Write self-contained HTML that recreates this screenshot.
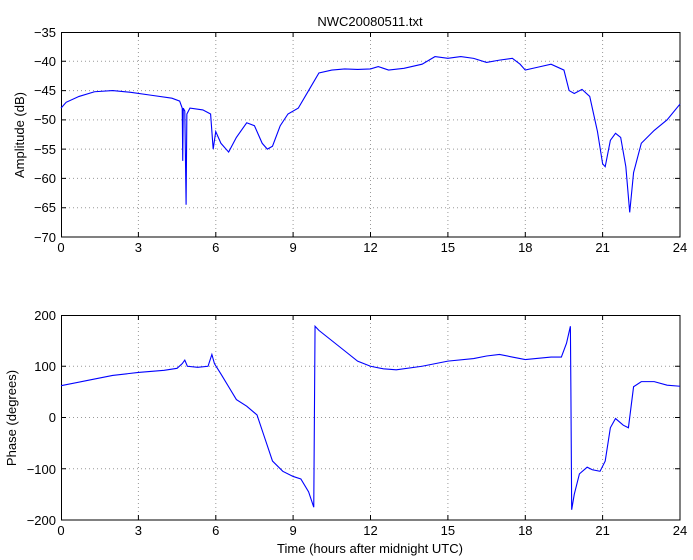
<!DOCTYPE html>
<html><head><style>body{margin:0;background:#fff}svg{display:block}text{font-family:"Liberation Sans",sans-serif;font-size:13px;fill:#000}</style></head>
<body>
<svg width="693" height="560" viewBox="0 0 693 560">
<rect width="693" height="560" fill="#fff"/>
<g stroke="#999" stroke-width="1" stroke-dasharray="1,3">
<!-- top grid -->
<path d="M86.8,32V237M138.4,32V237M190,32V237M241.5,32V237M293.1,32V237M344.7,32V237M396.3,32V237M447.9,32V237M499.5,32V237M551,32V237M602.6,32V237M654.2,32V237" stroke="none"/>
<path d="M138.4,32V237M215.8,32V237M293.1,32V237M370.5,32V237M447.9,32V237M525.3,32V237M602.6,32V237"/>
<path d="M61,61.3H680M61,90.6H680M61,119.9H680M61,149.1H680M61,178.4H680M61,207.7H680"/>
<path d="M138.4,315V520M215.8,315V520M293.1,315V520M370.5,315V520M447.9,315V520M525.3,315V520M602.6,315V520"/>
<path d="M61,366.3H680M61,417.5H680M61,468.8H680"/>
</g>
<g fill="none" stroke="#000" stroke-width="1">
<rect x="61.5" y="32.5" width="618.5" height="204.5"/>
<rect x="61.5" y="315.5" width="618.5" height="204.5"/>
<path d="M138.4,237v-5M215.8,237v-5M293.1,237v-5M370.5,237v-5M447.9,237v-5M525.3,237v-5M602.6,237v-5M138.4,32v5M215.8,32v5M293.1,32v5M370.5,32v5M447.9,32v5M525.3,32v5M602.6,32v5"/>
<path d="M61,61.3h5M61,90.6h5M61,119.9h5M61,149.1h5M61,178.4h5M61,207.7h5M680,61.3h-5M680,90.6h-5M680,119.9h-5M680,149.1h-5M680,178.4h-5M680,207.7h-5"/>
<path d="M138.4,520v-5M215.8,520v-5M293.1,520v-5M370.5,520v-5M447.9,520v-5M525.3,520v-5M602.6,520v-5M138.4,315v5M215.8,315v5M293.1,315v5M370.5,315v5M447.9,315v5M525.3,315v5M602.6,315v5"/>
<path d="M61,366.3h5M61,417.5h5M61,468.8h5M680,366.3h-5M680,417.5h-5M680,468.8h-5"/>
</g>
<g transform="translate(61,-173) scale(25.7917,-5.857)">
<polyline fill="none" stroke="#00f" stroke-width="1.1" vector-effect="non-scaling-stroke" points="0,-48 0.2,-47 0.7,-46 1.3,-45.2 2,-45 2.7,-45.3 3.5,-45.8 4.3,-46.3 4.6,-46.8 4.7,-48 4.72,-57 4.74,-48 4.8,-48.5 4.85,-64.5 4.88,-49 5,-48 5.5,-48.3 5.8,-49 5.9,-55 6,-52 6.2,-54 6.5,-55.5 6.8,-53 7.2,-50.5 7.5,-51 7.8,-54 8,-55 8.2,-54.5 8.5,-51 8.8,-49 9.2,-48 9.6,-45 10,-42 10.5,-41.5 11,-41.3 11.5,-41.4 12,-41.3 12.3,-40.9 12.7,-41.5 13.3,-41.2 14,-40.5 14.5,-39.2 15,-39.5 15.5,-39.2 16,-39.5 16.5,-40.2 17,-39.8 17.5,-39.5 17.8,-40.5 18,-41.5 18.5,-41 19,-40.5 19.5,-41.5 19.7,-45 19.9,-45.5 20.2,-44.8 20.5,-46 20.8,-52 21,-57.5 21.1,-58 21.3,-53.5 21.5,-52.3 21.7,-53 21.9,-58 22.05,-65.8 22.2,-59 22.5,-54 23,-51.8 23.5,-50 24,-47.3"/>
</g>
<g transform="translate(61,417.5) scale(25.7917,-0.5125)">
<polyline fill="none" stroke="#00f" stroke-width="1.1" vector-effect="non-scaling-stroke" points="0,62 1,72 2,82 3,88 4,92 4.5,96 4.7,105 4.8,112 4.9,100 5.3,98 5.7,100 5.85,123 5.95,105 6.2,85 6.5,60 6.8,35 7.2,22 7.6,5 7.9,-40 8.2,-85 8.6,-105 9,-115 9.3,-120 9.6,-145 9.8,-175 9.85,178 10,170 10.5,150 11,130 11.5,110 12,100 12.5,95 13,93 14,100 15,110 16,115 16.5,120 17,123 17.5,118 18,113 19,118 19.4,118 19.6,145 19.75,178 19.77,50 19.8,-180 19.9,-150 20.1,-110 20.4,-97 20.6,-102 20.9,-105 21.1,-85 21.3,-20 21.5,-2 21.8,-15 22,-20 22.2,60 22.5,70 23,70 23.5,63 24,61"/>
</g>
<g text-anchor="end">
<text x="56" y="37">−35</text><text x="56" y="66">−40</text><text x="56" y="95">−45</text><text x="56" y="124">−50</text><text x="56" y="154">−55</text><text x="56" y="183">−60</text><text x="56" y="212">−65</text><text x="56" y="242">−70</text>
<text x="56" y="320">200</text><text x="56" y="371">100</text><text x="56" y="422">0</text><text x="56" y="474">−100</text><text x="56" y="525">−200</text>
</g>
<g text-anchor="middle">
<text x="61" y="252">0</text><text x="138.4" y="252">3</text><text x="215.8" y="252">6</text><text x="293.1" y="252">9</text><text x="370.5" y="252">12</text><text x="447.9" y="252">15</text><text x="525.3" y="252">18</text><text x="602.6" y="252">21</text><text x="680" y="252">24</text>
<text x="61" y="535">0</text><text x="138.4" y="535">3</text><text x="215.8" y="535">6</text><text x="293.1" y="535">9</text><text x="370.5" y="535">12</text><text x="447.9" y="535">15</text><text x="525.3" y="535">18</text><text x="602.6" y="535">21</text><text x="680" y="535">24</text>
<text x="370" y="26" font-size="13">NWC20080511.txt</text>
<text x="370" y="553">Time (hours after midnight UTC)</text>
<text transform="translate(24,135) rotate(-90)">Amplitude (dB)</text>
<text transform="translate(16,418) rotate(-90)">Phase (degrees)</text>
</g>
</svg>
</body></html>
